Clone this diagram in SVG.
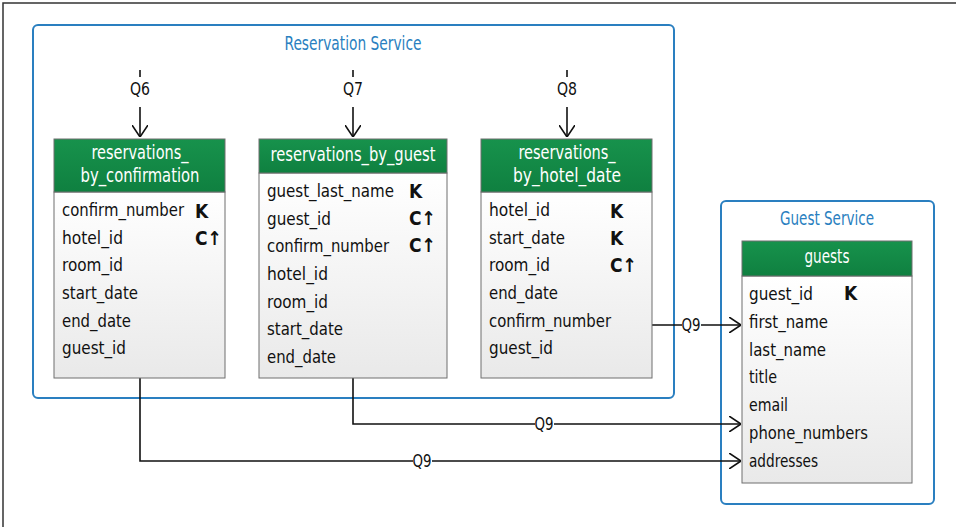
<svg xmlns="http://www.w3.org/2000/svg" width="956" height="527" viewBox="0 0 956 527">
<style>
text{font-family:"Liberation Sans Narrow","DejaVu Sans Condensed",sans-serif}
.svc{fill:none;stroke:#2a7fc0;stroke-width:2}
.svct{font-size:20px;fill:#2a7fc0;text-anchor:middle}
.hdr{fill:url(#hg);stroke:#6f6f6f;stroke-width:1}
.body{fill:url(#bg);stroke:#6f6f6f;stroke-width:1}
.ht{font-size:20px;fill:#fff;text-anchor:middle}
.r{font-size:18px;fill:#111}
.k{font-size:19px;font-weight:bold}
.q{font-size:18px;fill:#111;text-anchor:middle}
.ln{fill:none;stroke:#111;stroke-width:1.6}
</style>
<defs>
<linearGradient id="hg" x1="0" y1="0" x2="0" y2="1"><stop offset="0" stop-color="#17924c"/><stop offset="1" stop-color="#0f8040"/></linearGradient>
<linearGradient id="bg" x1="0" y1="0" x2="0" y2="1"><stop offset="0" stop-color="#ffffff"/><stop offset="1" stop-color="#e9e9e9"/></linearGradient>
<marker id="ar" viewBox="0 0 12 16" refX="12" refY="8" markerWidth="12" markerHeight="16" markerUnits="userSpaceOnUse" orient="auto"><path d="M0,0 L12,8 L0,16" fill="none" stroke="#111" stroke-width="1.6"/></marker>
</defs>
<rect width="956" height="527" fill="#fff"/>
<path d="M3,527 V3 H956" fill="none" stroke="#333" stroke-width="1.5"/>

<g id="reservation-service">
<rect class="svc" x="33" y="25" width="641" height="373" rx="5"/>
<text class="svct" x="353" y="50" textLength="137" lengthAdjust="spacingAndGlyphs">Reservation Service</text>
</g>
<g id="guest-service">
<rect class="svc" x="721" y="201" width="213" height="303" rx="5"/>
<text class="svct" x="827" y="225" textLength="94" lengthAdjust="spacingAndGlyphs">Guest Service</text>
</g>

<g id="connectors">
<line class="ln" x1="140" y1="70" x2="140" y2="77"/>
<text class="q" x="140" y="95" textLength="20" lengthAdjust="spacingAndGlyphs">Q6</text>
<line class="ln" x1="140" y1="107" x2="140" y2="137" marker-end="url(#ar)"/>
<line class="ln" x1="353" y1="70" x2="353" y2="77"/>
<text class="q" x="353" y="95" textLength="20" lengthAdjust="spacingAndGlyphs">Q7</text>
<line class="ln" x1="353" y1="107" x2="353" y2="137" marker-end="url(#ar)"/>
<line class="ln" x1="567" y1="70" x2="567" y2="77"/>
<text class="q" x="567" y="95" textLength="20" lengthAdjust="spacingAndGlyphs">Q8</text>
<line class="ln" x1="567" y1="107" x2="567" y2="137" marker-end="url(#ar)"/>
<path class="ln" d="M652,325 H682 M701,325 H741" marker-end="url(#ar)"/>
<text class="q" x="691" y="331" textLength="19" lengthAdjust="spacingAndGlyphs">Q9</text>
<path class="ln" d="M353,378 V424 H535 M554,424 H741" marker-end="url(#ar)"/>
<text class="q" x="544" y="430" textLength="19" lengthAdjust="spacingAndGlyphs">Q9</text>
<path class="ln" d="M140,378 V461 H413 M432,461 H741" marker-end="url(#ar)"/>
<text class="q" x="422" y="467" textLength="19" lengthAdjust="spacingAndGlyphs">Q9</text>
</g>

<g id="reservations_by_confirmation">
<rect class="body" x="54" y="192" width="171" height="186"/>
<rect class="hdr" x="54" y="139" width="171" height="53"/>
<text class="ht" x="140" y="159" textLength="97" lengthAdjust="spacingAndGlyphs">reservations_</text>
<text class="ht" x="140" y="182" textLength="119" lengthAdjust="spacingAndGlyphs">by_confirmation</text>
<text class="r" x="62" y="216"><tspan textLength="122" lengthAdjust="spacingAndGlyphs">confirm_number</tspan><tspan class="k" x="195" y="218">K</tspan></text>
<text class="r" x="62" y="244"><tspan textLength="61" lengthAdjust="spacingAndGlyphs">hotel_id</tspan><tspan class="k" x="195" y="245">C↑</tspan></text>
<text class="r" x="62" y="271" textLength="61" lengthAdjust="spacingAndGlyphs">room_id</text>
<text class="r" x="62" y="299" textLength="76" lengthAdjust="spacingAndGlyphs">start_date</text>
<text class="r" x="62" y="327" textLength="69" lengthAdjust="spacingAndGlyphs">end_date</text>
<text class="r" x="62" y="354" textLength="64" lengthAdjust="spacingAndGlyphs">guest_id</text>
</g>

<g id="reservations_by_guest">
<rect class="body" x="259" y="173" width="188" height="205"/>
<rect class="hdr" x="259" y="139" width="188" height="34"/>
<text class="ht" x="353" y="161" textLength="165" lengthAdjust="spacingAndGlyphs">reservations_by_guest</text>
<text class="r" x="267" y="197"><tspan textLength="127" lengthAdjust="spacingAndGlyphs">guest_last_name</tspan><tspan class="k" x="409" y="198">K</tspan></text>
<text class="r" x="267" y="225"><tspan textLength="64" lengthAdjust="spacingAndGlyphs">guest_id</tspan><tspan class="k" x="409" y="225">C↑</tspan></text>
<text class="r" x="267" y="252"><tspan textLength="122" lengthAdjust="spacingAndGlyphs">confirm_number</tspan><tspan class="k" x="409" y="252">C↑</tspan></text>
<text class="r" x="267" y="280" textLength="61" lengthAdjust="spacingAndGlyphs">hotel_id</text>
<text class="r" x="267" y="308" textLength="61" lengthAdjust="spacingAndGlyphs">room_id</text>
<text class="r" x="267" y="335" textLength="76" lengthAdjust="spacingAndGlyphs">start_date</text>
<text class="r" x="267" y="363" textLength="69" lengthAdjust="spacingAndGlyphs">end_date</text>
</g>

<g id="reservations_by_hotel_date">
<rect class="body" x="481" y="192" width="171" height="186"/>
<rect class="hdr" x="481" y="139" width="171" height="53"/>
<text class="ht" x="567" y="159" textLength="97" lengthAdjust="spacingAndGlyphs">reservations_</text>
<text class="ht" x="567" y="182" textLength="108" lengthAdjust="spacingAndGlyphs">by_hotel_date</text>
<text class="r" x="489" y="216"><tspan textLength="61" lengthAdjust="spacingAndGlyphs">hotel_id</tspan><tspan class="k" x="610" y="218">K</tspan></text>
<text class="r" x="489" y="244"><tspan textLength="76" lengthAdjust="spacingAndGlyphs">start_date</tspan><tspan class="k" x="610" y="245">K</tspan></text>
<text class="r" x="489" y="271"><tspan textLength="61" lengthAdjust="spacingAndGlyphs">room_id</tspan><tspan class="k" x="610" y="272">C↑</tspan></text>
<text class="r" x="489" y="299" textLength="69" lengthAdjust="spacingAndGlyphs">end_date</text>
<text class="r" x="489" y="327" textLength="122" lengthAdjust="spacingAndGlyphs">confirm_number</text>
<text class="r" x="489" y="354" textLength="64" lengthAdjust="spacingAndGlyphs">guest_id</text>
</g>

<g id="guests">
<rect class="body" x="742" y="276" width="170" height="207"/>
<rect class="hdr" x="742" y="241" width="170" height="35"/>
<text class="ht" x="827" y="263" textLength="45" lengthAdjust="spacingAndGlyphs">guests</text>
<text class="r" x="749" y="300"><tspan textLength="64" lengthAdjust="spacingAndGlyphs">guest_id</tspan><tspan class="k" x="844" y="300">K</tspan></text>
<text class="r" x="749" y="328" textLength="79" lengthAdjust="spacingAndGlyphs">first_name</text>
<text class="r" x="749" y="356" textLength="77" lengthAdjust="spacingAndGlyphs">last_name</text>
<text class="r" x="749" y="383" textLength="28" lengthAdjust="spacingAndGlyphs">title</text>
<text class="r" x="749" y="411" textLength="39" lengthAdjust="spacingAndGlyphs">email</text>
<text class="r" x="749" y="439" textLength="119" lengthAdjust="spacingAndGlyphs">phone_numbers</text>
<text class="r" x="749" y="467" textLength="69" lengthAdjust="spacingAndGlyphs">addresses</text>
</g>
</svg>
